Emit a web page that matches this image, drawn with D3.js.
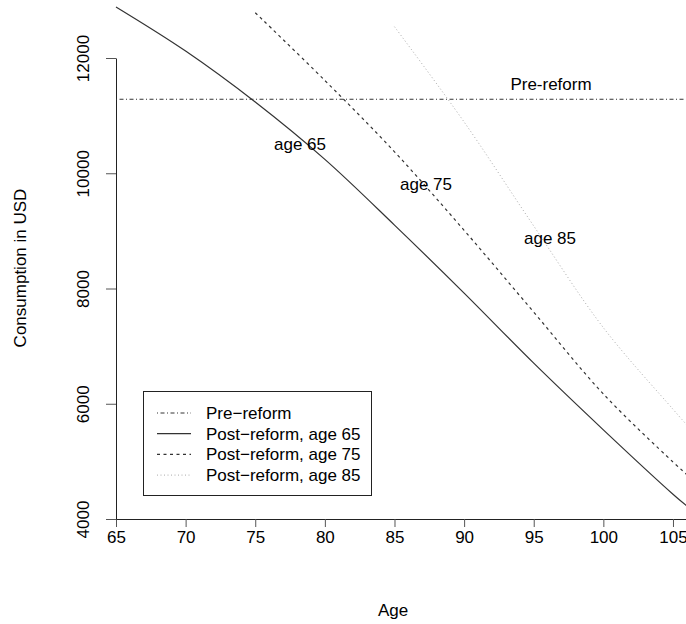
<!DOCTYPE html>
<html>
<head>
<meta charset="utf-8">
<script src="https://cdn.jsdelivr.net/npm/d3@7"></script>
<style>
  body { margin: 0; background: #fff; }
  svg { display: block; font-family: "Liberation Sans", Arial, sans-serif; }
</style>
</head>
<body>
<svg width="686" height="624"></svg>
<script>
// values
const xTicks = [65, 70, 75, 80, 85, 90, 95, 100, 105];
const yTicks = [4000, 6000, 8000, 10000, 12000];

const preAges = [65, 106];
const preReform = [11284, 11284];

const ages65 = [65, 70, 75, 80, 85, 90, 95, 100, 105, 106];
const post65 = [12885, 12120, 11236, 10240, 9100, 7920, 6704, 5547, 4430, 4225];

const ages75 = [75, 80, 85, 90, 95, 100, 105, 106];
const post75 = [12786, 11610, 10372, 9010, 7590, 6170, 4990, 4770];

const ages85 = [85, 90, 95, 100, 105, 106];
const post85 = [12543, 10890, 9085, 7320, 5905, 5630];

const legendLabels = ["Pre\u2212reform", "Post\u2212reform, age 65", "Post\u2212reform, age 75", "Post\u2212reform, age 85"];

const styles = [
    {stroke: "#333", dash: "1,2.5,4,2.5", width: 1},
    {stroke: "#333", dash: null, width: 1.2},
    {stroke: "#333", dash: "3,3.5", width: 1.2},
    {stroke: "#aaa", dash: "1,2.5", width: 1}
];

function toPoints(ages, vals){
    return ages.map(function(a, i){ return [a, vals[i]]; });
}

function drawChart(){
    var svg = d3.select("svg");

    // axis runs past the right edge, 110 is off screen
    var xScale = d3.scaleLinear().domain([65, 110]).range([116, 742.6]);
    var yScale = d3.scaleLinear().domain([4000, 12000]).range([519, 58]);

    var xAxis = svg.append("g")
        .attr("transform", "translate(0,519)")
        .call(d3.axisBottom(xScale).tickValues(xTicks).tickSize(8).tickSizeOuter(0));
    xAxis.selectAll("text")
        .attr("y", 0)
        .attr("dy", 0)
        .attr("transform", "translate(0,24)")
        .style("font-size", "17px")
        .style("fill", "#000");

    var yAxis = svg.append("g")
        .attr("transform", "translate(116,0)")
        .call(d3.axisLeft(yScale).tickValues(yTicks).tickFormat(d3.format("d")).tickSize(10).tickSizeOuter(0));
    yAxis.selectAll("text")
        .attr("x", 0)
        .attr("y", -27)
        .attr("dy", 0)
        .attr("transform", "rotate(-90)")
        .attr("text-anchor", "middle")
        .style("font-size", "17px")
        .style("fill", "#000");

    svg.selectAll(".domain").attr("stroke", "#222");
    svg.selectAll(".tick line").attr("stroke", "#555");

    // axis titles
    svg.append("text")
        .attr("x", 393)
        .attr("y", 616)
        .attr("text-anchor", "middle")
        .style("font-size", "17px")
        .text("Age");

    svg.append("text")
        .attr("transform", "translate(26,268)rotate(-90)")
        .attr("text-anchor", "middle")
        .style("font-size", "17px")
        .text("Consumption in USD");

    var line = d3.line()
        .x(function(d) { return xScale(d[0]); })
        .y(function(d) { return yScale(d[1]); })
        .curve(d3.curveCatmullRom.alpha(0.5));

    var series = [
        toPoints(preAges, preReform),
        toPoints(ages65, post65),
        toPoints(ages75, post75),
        toPoints(ages85, post85)
    ];

    series.forEach(function(s, i){
        svg.append("path")
            .datum(s)
            .attr("d", line)
            .attr("fill", "none")
            .attr("stroke", styles[i].stroke)
            .attr("stroke-width", styles[i].width)
            .attr("stroke-dasharray", styles[i].dash);
    });

    // labels on the curves
    var notes = [
        {x: 551, y: 90, t: "Pre-reform"},
        {x: 300, y: 150, t: "age 65"},
        {x: 426, y: 190, t: "age 75"},
        {x: 550, y: 244, t: "age 85"}
    ];
    svg.selectAll(".note")
        .data(notes)
        .enter()
        .append("text")
        .attr("class", "note")
        .attr("x", function(d){ return d.x; })
        .attr("y", function(d){ return d.y; })
        .attr("text-anchor", "middle")
        .style("font-size", "17px")
        .text(function(d){ return d.t; });

    // legend
    var lg = svg.append("g");
    lg.append("rect")
        .attr("x", 143.5)
        .attr("y", 391.5)
        .attr("width", 228)
        .attr("height", 104)
        .attr("fill", "#fff")
        .attr("stroke", "#222")
        .attr("stroke-width", 1);

    legendLabels.forEach(function(lab, i){
        var cy = 413 + i * 20.7;
        lg.append("line")
            .attr("x1", 157)
            .attr("x2", 191)
            .attr("y1", cy)
            .attr("y2", cy)
            .attr("stroke", styles[i].stroke)
            .attr("stroke-width", styles[i].width)
            .attr("stroke-dasharray", styles[i].dash);
        lg.append("text")
            .attr("x", 206)
            .attr("y", cy + 6)
            .style("font-size", "17px")
            .text(lab);
    });
}

drawChart();
</script>
</body>
</html>
